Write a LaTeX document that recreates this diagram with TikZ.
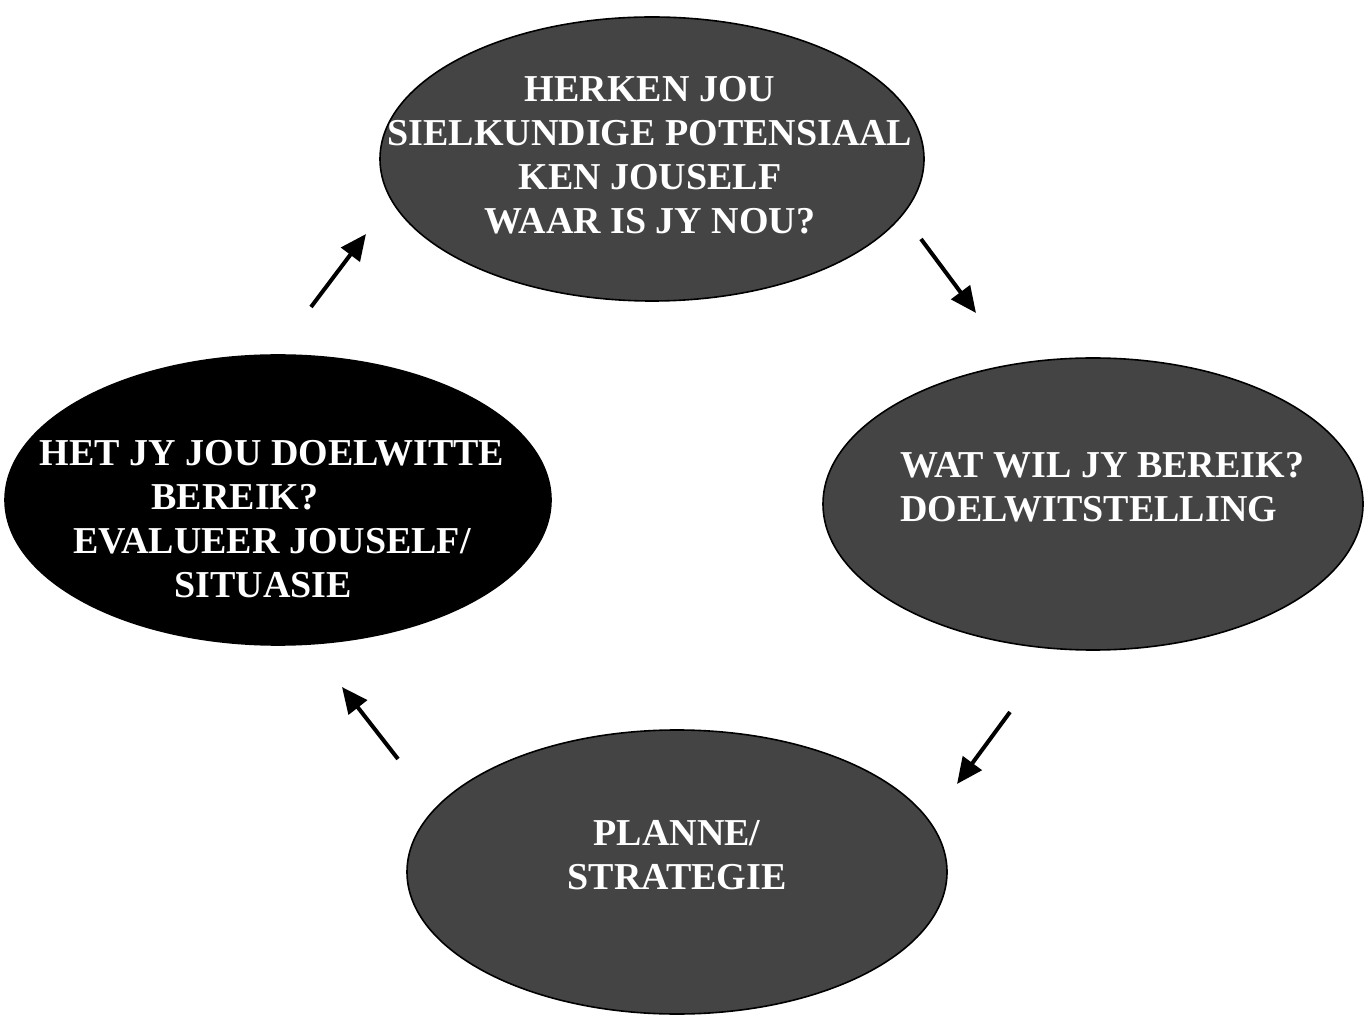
\documentclass[tikz,border=0pt]{standalone}
\usepackage{fontspec}
\setmainfont{Liberation Serif}
\usetikzlibrary{shapes.geometric,arrows.meta}
\definecolor{ovalgray}{RGB}{68,68,68}
\begin{document}
\begin{tikzpicture}[x=0.5pt,y=-0.5pt,
  oval/.style={ellipse,draw=black,line width=0.8pt,inner sep=0pt,
    minimum width=#1},
  ovalfill/.style={fill=ovalgray},
  caption/.style={text=white,font=\fontsize{19}{22}\selectfont\bfseries,
    inner sep=0pt,align=center},
  flow/.style={line width=2pt,-{Triangle[length=13pt,width=11.5pt]}}
]
\useasboundingbox (0,0) rectangle (1371,1015);

% the four stages of the cycle
\node[oval=272pt,minimum height=142pt,ovalfill] (top) at (652,159) {};
\node[oval=270pt,minimum height=146pt,ovalfill] (right) at (1093,504) {};
\node[oval=270pt,minimum height=142pt,ovalfill] (bottom) at (677,872) {};
\node[oval=273pt,minimum height=145pt,fill=black] (left) at (278,500) {};

% labels
\node[caption] (toptext) at (650,155)
  {HERKEN JOU\\SIELKUNDIGE POTENSIAAL\\KEN JOUSELF\\WAAR IS JY NOU?};
\node[caption,align=left,anchor=west] (righttext) at (900,487)
  {WAT WIL JY BEREIK?\\DOELWITSTELLING};
\node[caption] (bottomtext) at (677,855) {PLANNE/\\STRATEGIE};
\node[caption] (lefttext) at (272,519)
  {HET JY JOU DOELWITTE\\BEREIK?\makebox[1.95em]{}\\EVALUEER JOUSELF/\\SITUASIE\makebox[0.45em]{}};

% arrow end points between the stages
\coordinate (a1s) at (311,307); \coordinate (a1e) at (366,234);
\coordinate (a2s) at (921,239); \coordinate (a2e) at (976,313);
\coordinate (a3s) at (1010,712); \coordinate (a3e) at (957,784);
\coordinate (a4s) at (398,759); \coordinate (a4e) at (342,687);

\draw[flow] (a1s) -- (a1e);
\draw[flow] (a2s) -- (a2e);
\draw[flow] (a3s) -- (a3e);
\draw[flow] (a4s) -- (a4e);
\end{tikzpicture}
\end{document}
